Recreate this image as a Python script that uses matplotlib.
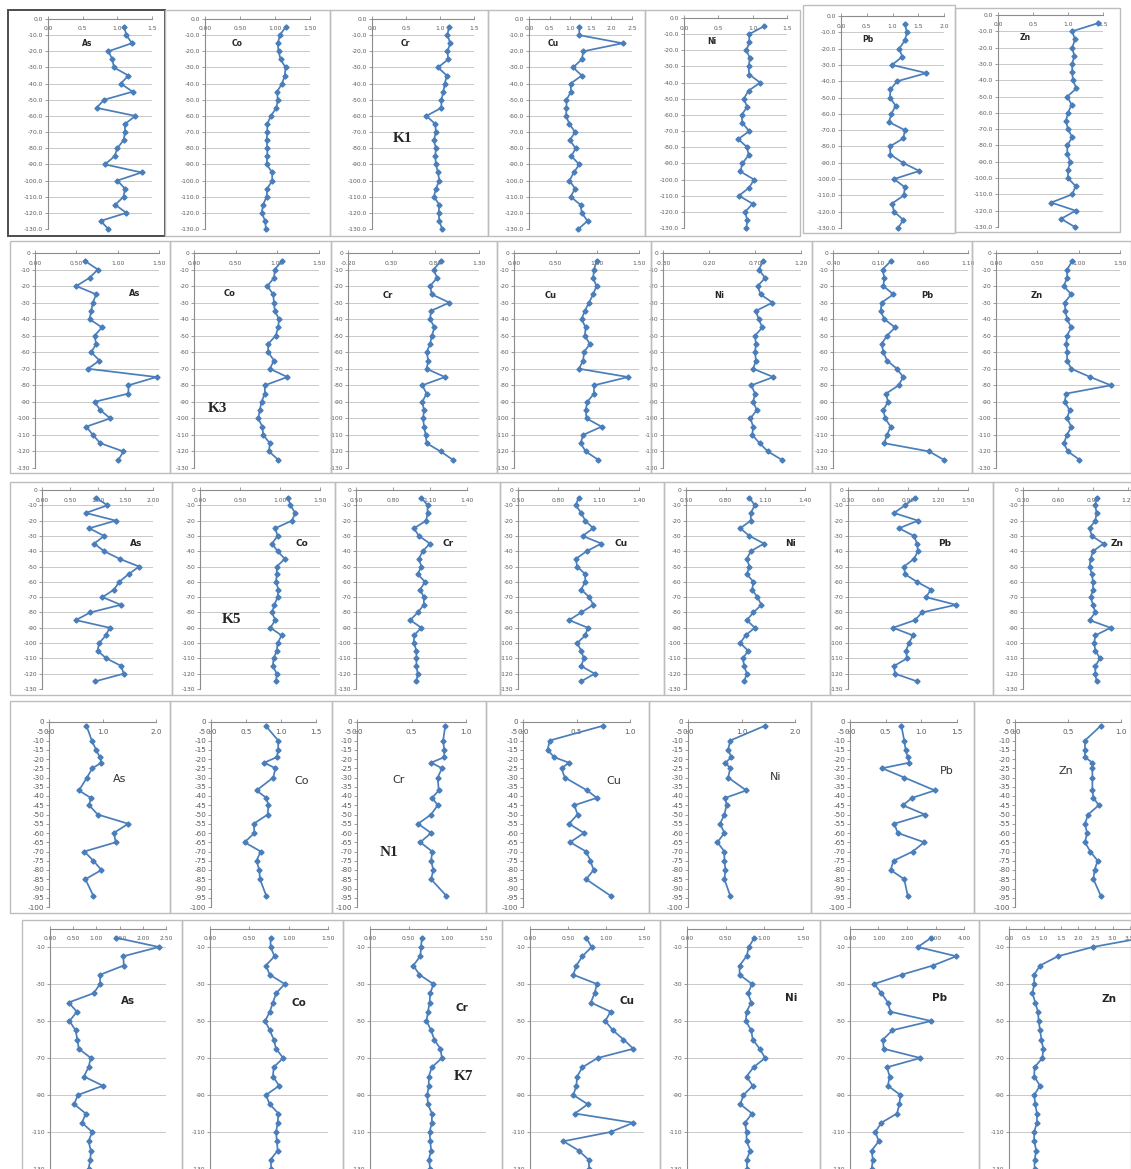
import numpy as np
import matplotlib
matplotlib.use('Agg')
import matplotlib.pyplot as plt
from matplotlib.patches import Rectangle
from matplotlib.ticker import FormatStrFormatter

W, H = 1131, 1169
BLUE = '#4a7ebb'
GRID = '#c9c9c9'
AXIS = '#8c8c8c'
TXT = '#5a5a5a'
FRAME = '#bdbdbd'

elements = ['As', 'Co', 'Cr', 'Cu', 'Ni', 'Pb', 'Zn']

# ---- depth of samples (cm) ----
depth_k1 = [-5, -10, -15, -20, -25, -30, -35, -40, -45, -50, -55, -60, -65,
            -70, -75, -80, -85, -90, -95, -100, -105, -110, -115, -120, -125, -130]
depth_k3 = [-5, -10, -15, -20, -25, -30, -35, -40, -45, -50, -55, -60, -65,
            -70, -75, -80, -85, -90, -95, -100, -105, -110, -115, -120, -125]
depth_k5 = [-5, -10, -15, -20, -25, -30, -35, -40, -45, -50, -55, -60, -65,
            -70, -75, -80, -85, -90, -95, -100, -105, -110, -115, -120, -125]
depth_n1 = [-2, -10, -15, -19, -22, -25, -30, -37, -41, -45, -50, -55, -60,
            -65, -70, -75, -80, -85, -94]
depth_k7 = [-5, -10, -15, -20, -25, -30, -35, -40, -45, -50, -55, -60, -65,
            -70, -75, -80, -85, -90, -95, -100, -105, -110, -115, -120, -125, -130]

# ---- K1 ----
k1_as = [1.10, 1.13, 1.21, 0.87, 0.93, 0.95, 1.16, 1.05, 1.22, 0.81, 0.70, 1.26, 1.11,
         1.11, 1.09, 1.00, 0.96, 0.82, 1.35, 1.00, 1.11, 1.09, 0.97, 1.13, 0.76, 0.87]
k1_co = [1.15, 1.07, 1.04, 1.05, 1.08, 1.15, 1.14, 1.10, 1.03, 1.04, 1.02, 0.94, 0.89,
         0.89, 0.88, 0.89, 0.89, 0.88, 0.96, 0.96, 0.89, 0.88, 0.83, 0.81, 0.86, 0.87]
k1_cr = [1.13, 1.11, 1.15, 1.11, 1.12, 0.97, 1.10, 1.07, 1.05, 1.02, 1.02, 0.80, 0.93,
         0.94, 0.91, 0.94, 0.93, 0.94, 0.97, 0.99, 0.94, 0.91, 0.99, 0.98, 0.99, 1.03]
k1_cu = [1.22, 1.22, 2.27, 1.32, 1.28, 1.07, 1.28, 1.01, 1.02, 0.91, 0.91, 0.90, 0.98,
         1.12, 0.99, 1.13, 1.03, 1.22, 1.09, 0.98, 1.12, 1.01, 1.25, 1.28, 1.42, 1.20]
k1_ni = [1.17, 0.95, 0.95, 0.91, 0.96, 0.94, 0.95, 1.11, 0.94, 0.87, 0.92, 0.84, 0.85,
         0.95, 0.79, 0.92, 0.94, 0.85, 0.82, 1.02, 0.95, 0.80, 1.00, 0.89, 0.92, 0.91]
k1_pb = [1.24, 1.28, 1.24, 1.13, 1.19, 0.99, 1.66, 1.09, 0.96, 0.95, 1.06, 0.98, 0.93,
         1.24, 1.21, 0.95, 0.96, 1.20, 1.52, 1.03, 1.24, 1.22, 0.99, 1.03, 1.21, 1.11]
k1_zn = [1.43, 1.06, 1.10, 1.06, 1.09, 1.06, 1.06, 1.07, 1.12, 0.99, 1.05, 1.00, 0.97,
         1.00, 1.06, 0.99, 0.99, 1.03, 1.00, 1.00, 1.11, 1.06, 0.76, 1.11, 0.90, 1.10]

# ---- K3 ----
k3_as = [0.61, 0.76, 0.66, 0.50, 0.74, 0.70, 0.68, 0.66, 0.81, 0.72, 0.74, 0.68, 0.78,
         0.64, 1.47, 1.13, 1.13, 0.72, 0.79, 0.91, 0.62, 0.70, 0.79, 1.07, 1.01]
k3_co = [1.05, 0.97, 0.96, 0.88, 0.95, 0.96, 0.97, 1.02, 1.01, 0.98, 0.89, 0.89, 0.96,
         0.91, 1.12, 0.85, 0.85, 0.81, 0.79, 0.77, 0.82, 0.83, 0.91, 0.90, 1.01]
k3_cr = [0.86, 0.78, 0.82, 0.74, 0.76, 0.96, 0.75, 0.74, 0.79, 0.76, 0.74, 0.70, 0.72,
         0.70, 0.91, 0.65, 0.70, 0.65, 0.67, 0.66, 0.67, 0.69, 0.70, 0.86, 1.00]
k3_cu = [0.99, 0.96, 0.95, 0.99, 0.95, 0.90, 0.85, 0.81, 0.86, 0.85, 0.91, 0.84, 0.83,
         0.78, 1.37, 0.96, 0.96, 0.88, 0.86, 0.87, 1.05, 0.83, 0.80, 0.86, 1.01]
k3_ni = [0.79, 0.74, 0.81, 0.73, 0.76, 0.89, 0.71, 0.74, 0.78, 0.70, 0.71, 0.70, 0.71,
         0.68, 0.90, 0.66, 0.70, 0.68, 0.72, 0.65, 0.68, 0.67, 0.75, 0.84, 0.99]
k3_pb = [0.24, 0.15, 0.17, 0.16, 0.27, 0.14, 0.13, 0.17, 0.29, 0.20, 0.14, 0.16, 0.20,
         0.31, 0.38, 0.33, 0.19, 0.21, 0.16, 0.18, 0.24, 0.20, 0.17, 0.67, 0.83]
k3_zn = [0.92, 0.86, 0.86, 0.82, 0.91, 0.83, 0.84, 0.86, 0.91, 0.86, 0.85, 0.86, 0.86,
         0.91, 1.14, 1.39, 0.85, 0.83, 0.89, 0.86, 0.91, 0.86, 0.82, 0.87, 1.01]

# ---- K5 ----
k5_as = [0.97, 1.18, 0.79, 1.33, 0.85, 1.12, 0.94, 1.12, 1.40, 1.75, 1.56, 1.39, 1.30,
         1.09, 1.42, 0.87, 0.61, 1.22, 1.15, 1.03, 1.00, 1.16, 1.43, 1.47, 0.96]
k5_co = [1.10, 1.13, 1.19, 1.15, 0.94, 0.97, 0.90, 0.97, 1.06, 0.96, 0.96, 0.95, 0.98,
         0.97, 0.93, 0.90, 0.94, 0.88, 1.02, 0.97, 0.96, 0.92, 0.91, 0.96, 0.95]
k5_cr = [1.03, 1.08, 1.08, 1.07, 0.97, 1.01, 1.10, 1.04, 1.01, 1.03, 1.00, 1.06, 1.02,
         1.05, 1.05, 1.00, 0.94, 1.03, 0.97, 0.97, 0.99, 0.99, 0.99, 1.00, 0.99]
k5_cu = [0.95, 0.93, 0.97, 1.00, 1.06, 0.98, 1.12, 1.01, 0.93, 0.94, 1.00, 1.00, 0.97,
         1.03, 1.06, 0.97, 0.88, 1.02, 1.00, 0.94, 0.97, 0.99, 0.97, 1.07, 0.97]
k5_ni = [0.98, 1.02, 0.99, 0.99, 0.91, 0.98, 1.09, 0.99, 0.96, 0.98, 0.96, 1.01, 1.00,
         1.04, 1.07, 1.01, 0.96, 1.02, 0.95, 0.91, 0.97, 0.93, 0.94, 0.96, 0.94]
k5_pb = [0.97, 0.87, 0.76, 1.00, 0.81, 0.96, 0.99, 1.00, 0.96, 0.86, 0.87, 0.99, 1.13,
         1.08, 1.38, 1.04, 0.97, 0.75, 0.95, 0.91, 0.88, 0.89, 0.76, 0.77, 0.99]
k5_zn = [0.93, 0.92, 0.93, 0.92, 0.87, 0.89, 0.99, 0.90, 0.88, 0.87, 0.89, 0.90, 0.90,
         0.88, 0.90, 0.92, 0.87, 1.05, 0.92, 0.91, 0.92, 0.96, 0.92, 0.92, 0.93]

# ---- N1 ----
n1_as = [0.70, 0.80, 0.88, 0.95, 0.98, 0.81, 0.71, 0.56, 0.78, 0.75, 0.91, 1.48, 1.21,
         1.25, 0.66, 0.83, 0.98, 0.68, 0.83]
n1_co = [0.78, 0.96, 0.96, 0.94, 0.76, 0.92, 0.89, 0.65, 0.79, 0.82, 0.81, 0.61, 0.62,
         0.48, 0.71, 0.65, 0.69, 0.70, 0.79]
n1_cr = [0.81, 0.79, 0.80, 0.80, 0.68, 0.78, 0.74, 0.75, 0.69, 0.74, 0.68, 0.56, 0.68,
         0.58, 0.69, 0.68, 0.70, 0.68, 0.82]
n1_cu = [0.75, 0.25, 0.23, 0.29, 0.43, 0.36, 0.39, 0.60, 0.69, 0.48, 0.51, 0.43, 0.57,
         0.44, 0.59, 0.63, 0.66, 0.59, 0.82]
n1_ni = [1.44, 0.79, 0.75, 0.81, 0.70, 0.79, 0.75, 1.09, 0.70, 0.72, 0.68, 0.60, 0.68,
         0.55, 0.68, 0.68, 0.70, 0.68, 0.79]
n1_pb = [0.72, 0.76, 0.78, 0.81, 0.83, 0.45, 0.76, 1.19, 0.87, 0.74, 1.05, 0.62, 0.67,
         1.04, 0.88, 0.61, 0.57, 0.76, 0.81]
n1_zn = [0.81, 0.66, 0.66, 0.66, 0.73, 0.73, 0.73, 0.73, 0.74, 0.79, 0.69, 0.66, 0.68,
         0.66, 0.71, 0.78, 0.75, 0.74, 0.81]

# ---- K7 ----
k7_as = [1.42, 2.35, 1.58, 1.59, 1.08, 1.08, 0.94, 0.40, 0.58, 0.42, 0.55, 0.59, 0.62,
         0.88, 0.83, 0.73, 1.14, 0.60, 0.52, 0.77, 0.69, 0.91, 0.83, 0.88, 0.87, 0.83]
k7_co = [0.77, 0.77, 0.82, 0.71, 0.76, 0.95, 0.84, 0.80, 0.76, 0.70, 0.76, 0.81, 0.84,
         0.93, 0.81, 0.80, 0.88, 0.71, 0.76, 0.87, 0.86, 0.84, 0.85, 0.86, 0.77, 0.78]
k7_cr = [0.67, 0.66, 0.65, 0.56, 0.64, 0.82, 0.78, 0.77, 0.75, 0.73, 0.79, 0.83, 0.91,
         0.93, 0.80, 0.76, 0.76, 0.74, 0.75, 0.80, 0.80, 0.77, 0.78, 0.79, 0.76, 0.78]
k7_cu = [0.74, 0.81, 0.69, 0.61, 0.57, 0.88, 0.85, 0.80, 1.06, 0.99, 1.09, 1.23, 1.36,
         0.89, 0.69, 0.62, 0.61, 0.57, 0.76, 0.59, 1.36, 1.06, 0.44, 0.64, 0.77, 0.78]
k7_ni = [0.87, 0.80, 0.77, 0.68, 0.68, 0.84, 0.79, 0.83, 0.77, 0.76, 0.83, 0.85, 0.94,
         1.01, 0.86, 0.77, 0.85, 0.73, 0.69, 0.84, 0.75, 0.77, 0.77, 0.82, 0.77, 0.78]
k7_pb = [2.85, 2.38, 3.73, 2.91, 1.81, 0.85, 1.10, 1.33, 1.42, 2.85, 1.49, 1.16, 1.18,
         2.47, 1.30, 1.39, 1.33, 1.77, 1.73, 1.65, 1.10, 0.89, 1.01, 0.76, 0.80, 0.76]
k7_zn = [3.90, 2.43, 1.42, 0.90, 0.73, 0.73, 0.68, 0.76, 0.84, 0.86, 0.90, 0.94, 0.99,
         0.97, 0.74, 0.73, 0.90, 0.73, 0.76, 0.81, 0.81, 0.73, 0.73, 0.79, 0.74, 0.74]

fig = plt.figure(figsize=(W / 100, H / 100), dpi=100)
fig.patch.set_facecolor('white')


def frame(l, r, t, b, color=FRAME, lw=1.0):
    fig.add_artist(Rectangle((l / W, 1 - b / H), (r - l) / W, (b - t) / H,
                             transform=fig.transFigure, fill=False, ec=color, lw=lw))


def panel(box, vals, depth, xlim, xstep, xfmt, ymin, ystep, ystart, yfmt,
          fs=4.3, grid=True, xpad=-11.0, xtick_end=None, ytick_end=None):
    l, r, t, b = box
    ax = fig.add_axes([l / W, 1 - b / H, (r - l) / W, (b - t) / H])
    ax.set_facecolor('none')
    ax.plot(vals, depth, color=BLUE, lw=1.25, marker='D', ms=2.6,
            mec=BLUE, mfc=BLUE, clip_on=False, zorder=3)
    ax.set_xlim(*xlim)
    ax.set_ylim(ymin, 0)
    xe = xlim[1] if xtick_end is None else xtick_end
    ye = ymin if ytick_end is None else ytick_end
    ax.set_xticks(np.arange(xlim[0], xe + 1e-6, xstep))
    ax.set_yticks(np.arange(ystart, ye - 1e-6, -ystep))
    ax.xaxis.set_major_formatter(FormatStrFormatter(xfmt))
    ax.yaxis.set_major_formatter(FormatStrFormatter(yfmt))
    for s in ['bottom', 'right']:
        ax.spines[s].set_visible(False)
    for s in ['top', 'left']:
        ax.spines[s].set_color(AXIS)
        ax.spines[s].set_linewidth(0.8)
    ax.tick_params(axis='x', top=True, bottom=False, labeltop=True, labelbottom=False,
                   length=2, width=0.6, color=AXIS, labelsize=fs, labelcolor=TXT, pad=xpad)
    ax.tick_params(axis='y', left=True, length=2, width=0.6, color=AXIS,
                   labelsize=fs, labelcolor=TXT, pad=1.5)
    if grid:
        ax.yaxis.grid(True, color=GRID, lw=0.7)
        ax.set_axisbelow(True)
    return ax


def label(x, y, s, size, weight='bold', family='DejaVu Sans', color='#262626'):
    fig.text(x / W, 1 - y / H, s, ha='center', va='center', fontsize=size,
             fontweight=weight, family=family, color=color)


# ---------------- panel frames ----------------
frame(8, 165, 10, 236, color='#4d4d4d', lw=1.4)
for l, r in [(165, 330), (330, 488), (488, 645), (645, 800)]:
    frame(l, r, 10, 236)
frame(803, 955, 5, 233)
frame(955, 1120, 8, 232)
for l, r in [(10, 170), (170, 331), (331, 497), (497, 651), (651, 812), (812, 972), (972, 1131)]:
    frame(l, r, 241, 473)
for l, r in [(10, 172), (172, 335), (335, 500), (500, 664), (664, 830), (830, 993), (993, 1131)]:
    frame(l, r, 482, 695)
for l, r in [(10, 170), (170, 332), (332, 486), (486, 649), (649, 811), (811, 974), (974, 1131)]:
    frame(l, r, 701, 913)
for l, r in [(22, 182), (182, 343), (343, 502), (502, 660), (660, 820), (820, 979), (979, 1131)]:
    frame(l, r, 920, 1175)

# ---------------- row 1 : K1 ----------------
k1 = [k1_as, k1_co, k1_cr, k1_cu, k1_ni, k1_pb, k1_zn]
r1_x = [(48, 152), (205, 310), (372, 474), (529, 632), (684, 787), (841, 944), (998, 1103)]
r1_y = [(19, 229), (19, 229), (19, 229), (19, 229), (18, 228), (16, 228), (15, 227)]
r1_lim = [(0, 1.5), (0, 1.5), (0, 1.5), (0, 2.5), (0, 1.5), (0, 2.0), (0, 1.5)]
r1_fmt = ['%.1f', '%.2f', '%.1f', '%.1f', '%.1f', '%.1f', '%.1f']
r1_lab = [(87, 43), (237, 43), (405, 43), (553, 43), (712, 42), (868, 39), (1025, 37)]
for i in range(7):
    panel((r1_x[i][0], r1_x[i][1], r1_y[i][0], r1_y[i][1]), k1[i], depth_k1,
          r1_lim[i], 0.5, r1_fmt[i], -130, 10, 0, '%.1f')
    label(*r1_lab[i], elements[i], 5.5)
label(403, 139, 'K1', 11, family='Liberation Serif')

# ---------------- row 2 : K3 ----------------
k3 = [k3_as, k3_co, k3_cr, k3_cu, k3_ni, k3_pb, k3_zn]
r2_x = [(35, 159), (194, 319), (348, 479), (514, 639), (663, 801), (833, 968), (996, 1120)]
r2_lim = [(0, 1.5), (0, 1.5), (-0.2, 1.3), (0, 1.5), (-0.3, 1.2), (-0.4, 1.1), (0, 1.5)]
r2_lab = [(135, 294), (230, 294), (388, 296), (551, 296), (719, 295), (927, 295), (1037, 295)]
for i in range(7):
    panel((r2_x[i][0], r2_x[i][1], 253, 468), k3[i], depth_k3,
          r2_lim[i], 0.5, '%.2f', -130, 10, 0, '%d')
    label(*r2_lab[i], elements[i], 6)
label(217, 409, 'K3', 11, family='Liberation Serif')

# ---------------- row 3 : K5 ----------------
k5 = [k5_as, k5_co, k5_cr, k5_cu, k5_ni, k5_pb, k5_zn]
r3_x = [(42, 153), (200, 320), (356, 467), (518, 639), (686, 805), (848, 968), (1023, 1163)]
r3_lim = [(0, 2.0), (0, 1.5), (0.5, 1.4), (0.5, 1.4), (0.5, 1.4), (0.3, 1.5), (0.3, 1.5)]
r3_tend = [None, None, None, None, None, None, 1.2]
r3_step = [0.5, 0.5, 0.3, 0.3, 0.3, 0.3, 0.3]
r3_lab = [(136, 543), (302, 543), (448, 544), (621, 543), (790, 543), (945, 543), (1117, 543)]
for i in range(7):
    panel((r3_x[i][0], r3_x[i][1], 490, 689), k5[i], depth_k5,
          r3_lim[i], r3_step[i], '%.2f', -130, 10, 0, '%d', xtick_end=r3_tend[i])
    label(*r3_lab[i], elements[i], 6.5)
label(232, 620, 'K5', 11, family='Liberation Serif')

# ---------------- row 4 : N1 ----------------
n1 = [n1_as, n1_co, n1_cr, n1_cu, n1_ni, n1_pb, n1_zn]
r4_x = [(49, 156), (211, 316), (357, 466), (523, 630), (688, 795), (850, 957), (1015, 1121)]
r4_lim = [(0, 2.0), (0, 1.5), (0, 1.0), (0, 1.0), (0, 2.0), (0, 1.5), (0, 1.0)]
r4_step = [1.0, 0.5, 0.5, 0.5, 1.0, 0.5, 0.5]
r4_lab = [(120, 779), (302, 781), (399, 780), (614, 781), (776, 777), (947, 771), (1066, 771)]
for i in range(7):
    panel((r4_x[i][0], r4_x[i][1], 722, 907), n1[i], depth_n1,
          r4_lim[i], r4_step[i], '%.1f', -100, 5, 0, '%d', fs=5.2, grid=False, xpad=-11.5)
    label(*r4_lab[i], elements[i], 8, weight='normal', color='#333333')
label(389, 852, 'N1', 11, family='Liberation Serif')

# ---------------- row 5 : K7 ----------------
k7 = [k7_as, k7_co, k7_cr, k7_cu, k7_ni, k7_pb, k7_zn]
r5_x = [(50, 166), (210, 328), (370, 486), (530, 644), (687, 803), (850, 964), (1009, 1147)]
r5_lim = [(0, 2.5), (0, 1.5), (0, 1.5), (0, 1.5), (0, 1.5), (0, 4.0), (0, 4.0)]
r5_tend = [None, None, None, None, None, None, 3.5]
r5_step = [0.5, 0.5, 0.5, 0.5, 0.5, 1.0, 0.5]
r5_fmt = ['%.2f', '%.2f', '%.2f', '%.2f', '%.2f', '%.2f', '%.1f']
r5_lab = [(128, 1001), (299, 1003), (462, 1008), (627, 1001), (791, 998), (940, 998), (1109, 999)]
for i in range(7):
    panel((r5_x[i][0], r5_x[i][1], 928.5, 1206), k7[i], depth_k7,
          r5_lim[i], r5_step[i], r5_fmt[i], -150, 20, -10, '%d',
          xtick_end=r5_tend[i], ytick_end=-130)
    label(*r5_lab[i], elements[i], 7.5)
label(464, 1077, 'K7', 11, family='Liberation Serif')

fig.savefig('out.png', dpi=100, facecolor='white')
